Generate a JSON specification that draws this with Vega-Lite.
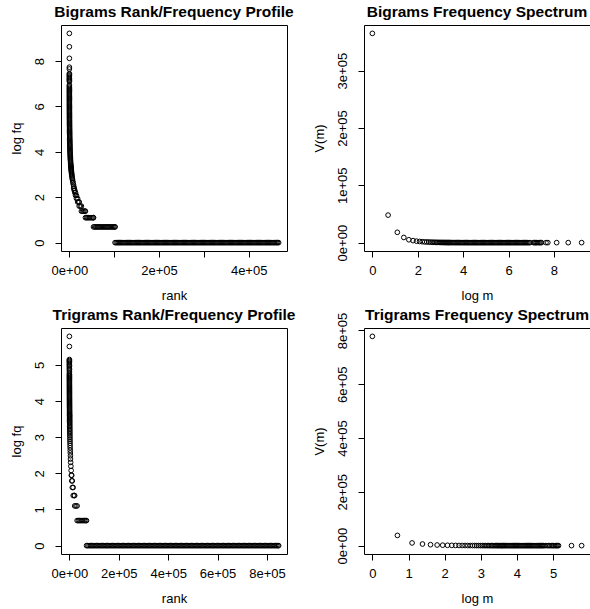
{
"$schema":"https://vega.github.io/schema/vega-lite/v6.json",
"background":"white",
"padding":{"left":9,"top":4,"right":0,"bottom":0},
"config":{
"font":"Liberation Sans",
"view":{"stroke":"black","strokeWidth":1},
"axis":{"grid":false,"domain":false,"ticks":true,"tickColor":"black","tickSize":6,"tickWidth":1,"labelColor":"black","labelFont":"Liberation Sans","labelFontSize":13,"titleFont":"Liberation Sans","titleFontSize":13,"titleFontWeight":"normal","titleColor":"black","labelFlush":false,"labelOverlap":false},
"axisX":{"labelPadding":13.5,"labelBaseline":"middle","titleY":44,"titleBaseline":"middle"},
"axisY":{"labelAngle":-90,"labelAlign":"center","labelBaseline":"middle","labelPadding":16,"titleX":-45,"titleAngle":-90,"titleBaseline":"middle","titleAlign":"center"},
"title":{"font":"Liberation Sans","fontSize":15.5,"fontWeight":"bold","color":"black","frame":"group","anchor":"middle","baseline":"alphabetic","offset":5}
},
"datasets":{
"bigram_rank":[
{"rank":1,"logfq":9.22},{"rank":2,"logfq":8.63},{"rank":3,"logfq":8.12},{"rank":4,"logfq":7.73},{"rank":5,"logfq":7.65},{"rank":6,"logfq":7.45},{"rank":8,"logfq":7.4},{"rank":10,"logfq":7.35},{"rank":12,"logfq":7.3},{"rank":14,"logfq":7.24},{"rank":16,"logfq":7.2},{"rank":18,"logfq":7.15},{"rank":20,"logfq":7.1},{"rank":46,"logfq":6.95},{"rank":49,"logfq":6.9},
{"rank":52,"logfq":6.85},{"rank":55,"logfq":6.8},{"rank":58,"logfq":6.75},{"rank":62,"logfq":6.7},{"rank":66,"logfq":6.65},{"rank":70,"logfq":6.6},{"rank":74,"logfq":6.55},{"rank":79,"logfq":6.5},{"rank":84,"logfq":6.45},{"rank":89,"logfq":6.4},{"rank":94,"logfq":6.35},{"rank":100,"logfq":6.3},{"rank":107,"logfq":6.25},{"rank":113,"logfq":6.2},{"rank":120,"logfq":6.15},{"rank":128,"logfq":6.1},{"rank":135,"logfq":6.05},{"rank":144,"logfq":6.0},{"rank":153,"logfq":5.95},{"rank":162,"logfq":5.9},{"rank":172,"logfq":5.85},{"rank":183,"logfq":5.8},{"rank":194,"logfq":5.75},{"rank":206,"logfq":5.7},{"rank":219,"logfq":5.65},{"rank":233,"logfq":5.6},{"rank":247,"logfq":5.55},{"rank":262,"logfq":5.5},{"rank":279,"logfq":5.45},{"rank":296,"logfq":5.4},{"rank":314,"logfq":5.35},{"rank":334,"logfq":5.3},{"rank":354,"logfq":5.25},{"rank":376,"logfq":5.2},{"rank":400,"logfq":5.15},{"rank":424,"logfq":5.1},{"rank":450,"logfq":5.05},{"rank":478,"logfq":5.0},{"rank":508,"logfq":4.95},{"rank":539,"logfq":4.9},{"rank":573,"logfq":4.85},{"rank":608,"logfq":4.8},{"rank":646,"logfq":4.75},{"rank":686,"logfq":4.7},{"rank":728,"logfq":4.65},{"rank":773,"logfq":4.6},{"rank":821,"logfq":4.55},{"rank":872,"logfq":4.5},{"rank":925,"logfq":4.45},{"rank":983,"logfq":4.4},{"rank":1043,"logfq":4.35},{"rank":1108,"logfq":4.3},{"rank":1176,"logfq":4.25},{"rank":1249,"logfq":4.2},{"rank":1326,"logfq":4.15},{"rank":1408,"logfq":4.1},{"rank":1495,"logfq":4.05},{"rank":1588,"logfq":4.0},{"rank":1686,"logfq":3.95},{"rank":1790,"logfq":3.9},{"rank":1901,"logfq":3.85},{"rank":2018,"logfq":3.8},{"rank":2143,"logfq":3.75},{"rank":2275,"logfq":3.7},{"rank":2416,"logfq":3.65},{"rank":2565,"logfq":3.6},{"rank":2724,"logfq":3.55},{"rank":2892,"logfq":3.5},{"rank":3071,"logfq":3.45},
{"rank":3255,"logfq":3.401},{"rank":3390,"logfq":3.367},{"rank":3536,"logfq":3.332},{"rank":3693,"logfq":3.296},{"rank":3865,"logfq":3.258},{"rank":4051,"logfq":3.219},{"rank":4254,"logfq":3.178},{"rank":4478,"logfq":3.135},{"rank":4723,"logfq":3.091},{"rank":4995,"logfq":3.045},{"rank":5295,"logfq":2.996},{"rank":5631,"logfq":2.944},{"rank":6009,"logfq":2.89},{"rank":6435,"logfq":2.833},{"rank":6921,"logfq":2.773},{"rank":7478,"logfq":2.708},{"rank":8124,"logfq":2.639},{"rank":8879,"logfq":2.565},{"rank":9775,"logfq":2.485},{"rank":9700,"logfq":2.398},{"rank":10800,"logfq":2.398},
{"rank":10900,"logfq":2.303},{"rank":12100,"logfq":2.303},{"rank":12200,"logfq":2.197},{"rank":13700,"logfq":2.197},{"rank":13800,"logfq":2.079},{"rank":15700,"logfq":2.079},{"rank":15800,"logfq":1.946},{"rank":18300,"logfq":1.946},{"rank":18400,"logfq":1.792},{"rank":20900,"logfq":1.792},{"rank":21800,"logfq":1.792},
{"rank":21900,"logfq":1.609},{"rank":24400,"logfq":1.609},{"rank":26800,"logfq":1.609},
{"rank":26900,"logfq":1.386},{"rank":29400,"logfq":1.386},{"rank":31900,"logfq":1.386},{"rank":34400,"logfq":1.386},{"rank":35800,"logfq":1.386},
{"rank":35900,"logfq":1.099},{"rank":38400,"logfq":1.099},{"rank":40900,"logfq":1.099},{"rank":43400,"logfq":1.099},{"rank":45900,"logfq":1.099},{"rank":48400,"logfq":1.099},{"rank":50900,"logfq":1.099},{"rank":53400,"logfq":1.099},{"rank":53800,"logfq":1.099},
{"rank":53900,"logfq":0.693},{"rank":56400,"logfq":0.693},{"rank":58900,"logfq":0.693},{"rank":61400,"logfq":0.693},{"rank":63900,"logfq":0.693},{"rank":66400,"logfq":0.693},{"rank":68900,"logfq":0.693},{"rank":71400,"logfq":0.693},{"rank":73900,"logfq":0.693},{"rank":76400,"logfq":0.693},{"rank":78900,"logfq":0.693},{"rank":81400,"logfq":0.693},{"rank":83900,"logfq":0.693},{"rank":86400,"logfq":0.693},{"rank":88900,"logfq":0.693},{"rank":91400,"logfq":0.693},{"rank":93900,"logfq":0.693},{"rank":96400,"logfq":0.693},{"rank":98900,"logfq":0.693},{"rank":101400,"logfq":0.693},{"rank":101800,"logfq":0.693},
{"rank":101900,"logfq":0},{"rank":104400,"logfq":0},{"rank":106900,"logfq":0},{"rank":109400,"logfq":0},
{"rank":111900,"logfq":0},{"rank":114400,"logfq":0},{"rank":116900,"logfq":0},{"rank":119400,"logfq":0},
{"rank":121900,"logfq":0},{"rank":124400,"logfq":0},{"rank":126900,"logfq":0},{"rank":129400,"logfq":0},
{"rank":131900,"logfq":0},{"rank":134400,"logfq":0},{"rank":136900,"logfq":0},{"rank":139400,"logfq":0},
{"rank":141900,"logfq":0},{"rank":144400,"logfq":0},{"rank":146900,"logfq":0},{"rank":149400,"logfq":0},
{"rank":151900,"logfq":0},{"rank":154400,"logfq":0},{"rank":156900,"logfq":0},{"rank":159400,"logfq":0},
{"rank":161900,"logfq":0},{"rank":164400,"logfq":0},{"rank":166900,"logfq":0},{"rank":169400,"logfq":0},
{"rank":171900,"logfq":0},{"rank":174400,"logfq":0},{"rank":176900,"logfq":0},{"rank":179400,"logfq":0},
{"rank":181900,"logfq":0},{"rank":184400,"logfq":0},{"rank":186900,"logfq":0},{"rank":189400,"logfq":0},
{"rank":191900,"logfq":0},{"rank":194400,"logfq":0},{"rank":196900,"logfq":0},{"rank":199400,"logfq":0},
{"rank":201900,"logfq":0},{"rank":204400,"logfq":0},{"rank":206900,"logfq":0},{"rank":209400,"logfq":0},
{"rank":211900,"logfq":0},{"rank":214400,"logfq":0},{"rank":216900,"logfq":0},{"rank":219400,"logfq":0},
{"rank":221900,"logfq":0},{"rank":224400,"logfq":0},{"rank":226900,"logfq":0},{"rank":229400,"logfq":0},
{"rank":231900,"logfq":0},{"rank":234400,"logfq":0},{"rank":236900,"logfq":0},{"rank":239400,"logfq":0},
{"rank":241900,"logfq":0},{"rank":244400,"logfq":0},{"rank":246900,"logfq":0},{"rank":249400,"logfq":0},
{"rank":251900,"logfq":0},{"rank":254400,"logfq":0},{"rank":256900,"logfq":0},{"rank":259400,"logfq":0},
{"rank":261900,"logfq":0},{"rank":264400,"logfq":0},{"rank":266900,"logfq":0},{"rank":269400,"logfq":0},
{"rank":271900,"logfq":0},{"rank":274400,"logfq":0},{"rank":276900,"logfq":0},{"rank":279400,"logfq":0},
{"rank":281900,"logfq":0},{"rank":284400,"logfq":0},{"rank":286900,"logfq":0},{"rank":289400,"logfq":0},
{"rank":291900,"logfq":0},{"rank":294400,"logfq":0},{"rank":296900,"logfq":0},{"rank":299400,"logfq":0},
{"rank":301900,"logfq":0},{"rank":304400,"logfq":0},{"rank":306900,"logfq":0},{"rank":309400,"logfq":0},
{"rank":311900,"logfq":0},{"rank":314400,"logfq":0},{"rank":316900,"logfq":0},{"rank":319400,"logfq":0},
{"rank":321900,"logfq":0},{"rank":324400,"logfq":0},{"rank":326900,"logfq":0},{"rank":329400,"logfq":0},
{"rank":331900,"logfq":0},{"rank":334400,"logfq":0},{"rank":336900,"logfq":0},{"rank":339400,"logfq":0},
{"rank":341900,"logfq":0},{"rank":344400,"logfq":0},{"rank":346900,"logfq":0},{"rank":349400,"logfq":0},
{"rank":351900,"logfq":0},{"rank":354400,"logfq":0},{"rank":356900,"logfq":0},{"rank":359400,"logfq":0},
{"rank":361900,"logfq":0},{"rank":364400,"logfq":0},{"rank":366900,"logfq":0},{"rank":369400,"logfq":0},
{"rank":371900,"logfq":0},{"rank":374400,"logfq":0},{"rank":376900,"logfq":0},{"rank":379400,"logfq":0},
{"rank":381900,"logfq":0},{"rank":384400,"logfq":0},{"rank":386900,"logfq":0},{"rank":389400,"logfq":0},
{"rank":391900,"logfq":0},{"rank":394400,"logfq":0},{"rank":396900,"logfq":0},{"rank":399400,"logfq":0},
{"rank":401900,"logfq":0},{"rank":404400,"logfq":0},{"rank":406900,"logfq":0},{"rank":409400,"logfq":0},
{"rank":411900,"logfq":0},{"rank":414400,"logfq":0},{"rank":416900,"logfq":0},{"rank":419400,"logfq":0},
{"rank":421900,"logfq":0},{"rank":424400,"logfq":0},{"rank":426900,"logfq":0},{"rank":429400,"logfq":0},
{"rank":431900,"logfq":0},{"rank":434400,"logfq":0},{"rank":436900,"logfq":0},{"rank":439400,"logfq":0},
{"rank":441900,"logfq":0},{"rank":444400,"logfq":0},{"rank":446900,"logfq":0},{"rank":449400,"logfq":0},
{"rank":451900,"logfq":0},{"rank":454400,"logfq":0},{"rank":456900,"logfq":0},{"rank":459400,"logfq":0},
{"rank":461900,"logfq":0},{"rank":464400,"logfq":0},{"rank":466850,"logfq":0}
],
"bigram_spectrum":[
{"logm":0,"Vm":365000},{"logm":0.693,"Vm":48000},{"logm":1.099,"Vm":18000},{"logm":1.386,"Vm":9000},{"logm":1.609,"Vm":5000},{"logm":1.792,"Vm":3500},{"logm":1.946,"Vm":2600},{"logm":2.079,"Vm":2000},{"logm":2.197,"Vm":1600},{"logm":2.303,"Vm":1300},
{"logm":2.398,"Vm":1184},{"logm":2.485,"Vm":978},{"logm":2.565,"Vm":820},{"logm":2.639,"Vm":696},{"logm":2.708,"Vm":598},{"logm":2.773,"Vm":519},{"logm":2.833,"Vm":454},{"logm":2.89,"Vm":401},{"logm":2.944,"Vm":356},{"logm":2.996,"Vm":318},{"logm":3.045,"Vm":285},{"logm":3.091,"Vm":258},{"logm":3.135,"Vm":234},{"logm":3.178,"Vm":213},{"logm":3.219,"Vm":194},{"logm":3.258,"Vm":178},{"logm":3.296,"Vm":164},{"logm":3.332,"Vm":152},{"logm":3.367,"Vm":140},{"logm":3.401,"Vm":130},
{"logm":3.45,"Vm":117},{"logm":3.5,"Vm":105},{"logm":3.55,"Vm":94},{"logm":3.6,"Vm":84},{"logm":3.65,"Vm":75},{"logm":3.7,"Vm":68},{"logm":3.75,"Vm":60},{"logm":3.8,"Vm":54},{"logm":3.85,"Vm":49},{"logm":3.9,"Vm":43},{"logm":3.95,"Vm":39},{"logm":4.0,"Vm":35},{"logm":4.05,"Vm":31},{"logm":4.1,"Vm":28},{"logm":4.15,"Vm":25},{"logm":4.2,"Vm":22},{"logm":4.25,"Vm":20},{"logm":4.3,"Vm":18},{"logm":4.35,"Vm":16},{"logm":4.4,"Vm":14},{"logm":4.45,"Vm":13},{"logm":4.5,"Vm":11},{"logm":4.55,"Vm":10},{"logm":4.6,"Vm":9},{"logm":4.65,"Vm":8},{"logm":4.7,"Vm":7},{"logm":4.75,"Vm":6},{"logm":4.8,"Vm":6},{"logm":4.85,"Vm":5},{"logm":4.9,"Vm":5},{"logm":4.95,"Vm":4},{"logm":5.0,"Vm":4},{"logm":5.05,"Vm":3},{"logm":5.1,"Vm":3},{"logm":5.15,"Vm":3},{"logm":5.2,"Vm":2},{"logm":5.25,"Vm":2},{"logm":5.3,"Vm":2},{"logm":5.35,"Vm":2},
{"logm":5.4,"Vm":1},{"logm":5.45,"Vm":1},{"logm":5.5,"Vm":1},{"logm":5.55,"Vm":1},{"logm":5.6,"Vm":1},{"logm":5.65,"Vm":1},{"logm":5.7,"Vm":1},{"logm":5.75,"Vm":1},{"logm":5.8,"Vm":1},{"logm":5.85,"Vm":1},{"logm":5.9,"Vm":1},{"logm":5.95,"Vm":1},{"logm":6.0,"Vm":1},{"logm":6.05,"Vm":1},{"logm":6.1,"Vm":1},{"logm":6.15,"Vm":1},{"logm":6.2,"Vm":1},{"logm":6.25,"Vm":1},{"logm":6.3,"Vm":1},{"logm":6.35,"Vm":1},{"logm":6.4,"Vm":1},{"logm":6.45,"Vm":1},{"logm":6.5,"Vm":1},{"logm":6.55,"Vm":1},{"logm":6.6,"Vm":1},{"logm":6.65,"Vm":1},{"logm":6.7,"Vm":1},{"logm":6.75,"Vm":1},{"logm":6.8,"Vm":1},{"logm":6.85,"Vm":1},{"logm":6.9,"Vm":1},{"logm":6.95,"Vm":1},
{"logm":7.1,"Vm":1},{"logm":7.15,"Vm":1},{"logm":7.2,"Vm":1},{"logm":7.24,"Vm":1},{"logm":7.3,"Vm":1},{"logm":7.35,"Vm":1},{"logm":7.4,"Vm":1},{"logm":7.45,"Vm":1},{"logm":7.65,"Vm":1},{"logm":7.73,"Vm":1},{"logm":8.12,"Vm":1},{"logm":8.63,"Vm":1},{"logm":9.22,"Vm":1}
],
"trigram_rank":[
{"rank":1,"logfq":5.79},{"rank":2,"logfq":5.51},{"rank":5,"logfq":5.15},{"rank":9,"logfq":5.12},{"rank":15,"logfq":5.09},{"rank":25,"logfq":5.06},{"rank":40,"logfq":5.02},{"rank":60,"logfq":4.99},{"rank":85,"logfq":4.95},{"rank":110,"logfq":4.91},{"rank":140,"logfq":4.87},{"rank":170,"logfq":4.83},{"rank":200,"logfq":4.78},
{"rank":228,"logfq":4.74},{"rank":238,"logfq":4.71},{"rank":248,"logfq":4.68},{"rank":258,"logfq":4.65},{"rank":268,"logfq":4.62},{"rank":278,"logfq":4.59},{"rank":290,"logfq":4.56},{"rank":300,"logfq":4.53},{"rank":312,"logfq":4.5},{"rank":326,"logfq":4.47},{"rank":338,"logfq":4.44},{"rank":352,"logfq":4.41},{"rank":366,"logfq":4.38},{"rank":380,"logfq":4.35},{"rank":394,"logfq":4.32},{"rank":410,"logfq":4.29},{"rank":428,"logfq":4.26},{"rank":444,"logfq":4.23},{"rank":462,"logfq":4.2},{"rank":480,"logfq":4.17},{"rank":500,"logfq":4.14},{"rank":520,"logfq":4.11},{"rank":540,"logfq":4.08},{"rank":562,"logfq":4.05},{"rank":584,"logfq":4.02},{"rank":606,"logfq":3.99},{"rank":630,"logfq":3.96},{"rank":656,"logfq":3.93},{"rank":682,"logfq":3.9},{"rank":708,"logfq":3.87},{"rank":736,"logfq":3.84},{"rank":766,"logfq":3.81},{"rank":796,"logfq":3.78},{"rank":828,"logfq":3.75},{"rank":862,"logfq":3.72},{"rank":896,"logfq":3.69},{"rank":930,"logfq":3.66},{"rank":968,"logfq":3.63},{"rank":1006,"logfq":3.6},
{"rank":1028,"logfq":3.584},{"rank":1066,"logfq":3.555},{"rank":1107,"logfq":3.526},{"rank":1151,"logfq":3.497},{"rank":1198,"logfq":3.466},{"rank":1249,"logfq":3.434},{"rank":1303,"logfq":3.401},{"rank":1361,"logfq":3.367},{"rank":1425,"logfq":3.332},{"rank":1494,"logfq":3.296},{"rank":1569,"logfq":3.258},{"rank":1651,"logfq":3.219},{"rank":1740,"logfq":3.178},{"rank":1840,"logfq":3.135},{"rank":1950,"logfq":3.091},{"rank":2071,"logfq":3.045},{"rank":2207,"logfq":2.996},{"rank":2359,"logfq":2.944},{"rank":2531,"logfq":2.89},{"rank":2725,"logfq":2.833},{"rank":2949,"logfq":2.773},{"rank":3207,"logfq":2.708},{"rank":3508,"logfq":2.639},{"rank":3864,"logfq":2.565},{"rank":4286,"logfq":2.485},{"rank":4520,"logfq":2.398},
{"rank":5200,"logfq":2.303},{"rank":6100,"logfq":2.197},{"rank":7200,"logfq":2.079},{"rank":8000,"logfq":1.946},{"rank":9500,"logfq":1.946},{"rank":9700,"logfq":1.792},{"rank":11800,"logfq":1.792},{"rank":12000,"logfq":1.609},{"rank":15300,"logfq":1.609},
{"rank":15500,"logfq":1.386},{"rank":19500,"logfq":1.386},{"rank":21300,"logfq":1.386},
{"rank":21500,"logfq":1.099},{"rank":26500,"logfq":1.099},{"rank":31300,"logfq":1.099},
{"rank":31500,"logfq":0.693},{"rank":36500,"logfq":0.693},{"rank":41500,"logfq":0.693},{"rank":46500,"logfq":0.693},{"rank":51500,"logfq":0.693},{"rank":56500,"logfq":0.693},{"rank":61500,"logfq":0.693},{"rank":66500,"logfq":0.693},{"rank":69300,"logfq":0.693},
{"rank":69500,"logfq":0},{"rank":74500,"logfq":0},{"rank":79500,"logfq":0},{"rank":84500,"logfq":0},{"rank":89500,"logfq":0},{"rank":94500,"logfq":0},{"rank":99500,"logfq":0},
{"rank":104500,"logfq":0},{"rank":109500,"logfq":0},{"rank":114500,"logfq":0},{"rank":119500,"logfq":0},{"rank":124500,"logfq":0},{"rank":129500,"logfq":0},{"rank":134500,"logfq":0},{"rank":139500,"logfq":0},{"rank":144500,"logfq":0},{"rank":149500,"logfq":0},
{"rank":154500,"logfq":0},{"rank":159500,"logfq":0},{"rank":164500,"logfq":0},{"rank":169500,"logfq":0},{"rank":174500,"logfq":0},{"rank":179500,"logfq":0},{"rank":184500,"logfq":0},{"rank":189500,"logfq":0},{"rank":194500,"logfq":0},{"rank":199500,"logfq":0},
{"rank":204500,"logfq":0},{"rank":209500,"logfq":0},{"rank":214500,"logfq":0},{"rank":219500,"logfq":0},{"rank":224500,"logfq":0},{"rank":229500,"logfq":0},{"rank":234500,"logfq":0},{"rank":239500,"logfq":0},{"rank":244500,"logfq":0},{"rank":249500,"logfq":0},
{"rank":254500,"logfq":0},{"rank":259500,"logfq":0},{"rank":264500,"logfq":0},{"rank":269500,"logfq":0},{"rank":274500,"logfq":0},{"rank":279500,"logfq":0},{"rank":284500,"logfq":0},{"rank":289500,"logfq":0},{"rank":294500,"logfq":0},{"rank":299500,"logfq":0},
{"rank":304500,"logfq":0},{"rank":309500,"logfq":0},{"rank":314500,"logfq":0},{"rank":319500,"logfq":0},{"rank":324500,"logfq":0},{"rank":329500,"logfq":0},{"rank":334500,"logfq":0},{"rank":339500,"logfq":0},{"rank":344500,"logfq":0},{"rank":349500,"logfq":0},
{"rank":354500,"logfq":0},{"rank":359500,"logfq":0},{"rank":364500,"logfq":0},{"rank":369500,"logfq":0},{"rank":374500,"logfq":0},{"rank":379500,"logfq":0},{"rank":384500,"logfq":0},{"rank":389500,"logfq":0},{"rank":394500,"logfq":0},{"rank":399500,"logfq":0},
{"rank":404500,"logfq":0},{"rank":409500,"logfq":0},{"rank":414500,"logfq":0},{"rank":419500,"logfq":0},{"rank":424500,"logfq":0},{"rank":429500,"logfq":0},{"rank":434500,"logfq":0},{"rank":439500,"logfq":0},{"rank":444500,"logfq":0},{"rank":449500,"logfq":0},
{"rank":454500,"logfq":0},{"rank":459500,"logfq":0},{"rank":464500,"logfq":0},{"rank":469500,"logfq":0},{"rank":474500,"logfq":0},{"rank":479500,"logfq":0},{"rank":484500,"logfq":0},{"rank":489500,"logfq":0},{"rank":494500,"logfq":0},{"rank":499500,"logfq":0},
{"rank":504500,"logfq":0},{"rank":509500,"logfq":0},{"rank":514500,"logfq":0},{"rank":519500,"logfq":0},{"rank":524500,"logfq":0},{"rank":529500,"logfq":0},{"rank":534500,"logfq":0},{"rank":539500,"logfq":0},{"rank":544500,"logfq":0},{"rank":549500,"logfq":0},
{"rank":554500,"logfq":0},{"rank":559500,"logfq":0},{"rank":564500,"logfq":0},{"rank":569500,"logfq":0},{"rank":574500,"logfq":0},{"rank":579500,"logfq":0},{"rank":584500,"logfq":0},{"rank":589500,"logfq":0},{"rank":594500,"logfq":0},{"rank":599500,"logfq":0},
{"rank":604500,"logfq":0},{"rank":609500,"logfq":0},{"rank":614500,"logfq":0},{"rank":619500,"logfq":0},{"rank":624500,"logfq":0},{"rank":629500,"logfq":0},{"rank":634500,"logfq":0},{"rank":639500,"logfq":0},{"rank":644500,"logfq":0},{"rank":649500,"logfq":0},
{"rank":654500,"logfq":0},{"rank":659500,"logfq":0},{"rank":664500,"logfq":0},{"rank":669500,"logfq":0},{"rank":674500,"logfq":0},{"rank":679500,"logfq":0},{"rank":684500,"logfq":0},{"rank":689500,"logfq":0},{"rank":694500,"logfq":0},{"rank":699500,"logfq":0},
{"rank":704500,"logfq":0},{"rank":709500,"logfq":0},{"rank":714500,"logfq":0},{"rank":719500,"logfq":0},{"rank":724500,"logfq":0},{"rank":729500,"logfq":0},{"rank":734500,"logfq":0},{"rank":739500,"logfq":0},{"rank":744500,"logfq":0},{"rank":749500,"logfq":0},
{"rank":754500,"logfq":0},{"rank":759500,"logfq":0},{"rank":764500,"logfq":0},{"rank":769500,"logfq":0},{"rank":774500,"logfq":0},{"rank":779500,"logfq":0},{"rank":784500,"logfq":0},{"rank":789500,"logfq":0},{"rank":794500,"logfq":0},{"rank":799500,"logfq":0},
{"rank":804500,"logfq":0},{"rank":809500,"logfq":0},{"rank":814500,"logfq":0},{"rank":819500,"logfq":0},{"rank":824500,"logfq":0},{"rank":829500,"logfq":0},{"rank":834500,"logfq":0},{"rank":839500,"logfq":0},{"rank":844500,"logfq":0},{"rank":847400,"logfq":0}
],
"trigram_spectrum":[
{"logm":0,"Vm":778000},{"logm":0.693,"Vm":38000},{"logm":1.099,"Vm":10000},{"logm":1.386,"Vm":6000},{"logm":1.609,"Vm":3500},{"logm":1.792,"Vm":2300},{"logm":1.946,"Vm":1700},{"logm":2.079,"Vm":1300},{"logm":2.197,"Vm":1000},{"logm":2.303,"Vm":800},
{"logm":2.398,"Vm":567},{"logm":2.485,"Vm":464},{"logm":2.565,"Vm":386},{"logm":2.639,"Vm":326},{"logm":2.708,"Vm":278},{"logm":2.773,"Vm":240},{"logm":2.833,"Vm":208},{"logm":2.89,"Vm":183},{"logm":2.944,"Vm":161},{"logm":2.996,"Vm":143},{"logm":3.045,"Vm":128},{"logm":3.091,"Vm":115},{"logm":3.135,"Vm":104},{"logm":3.178,"Vm":94},{"logm":3.219,"Vm":86},{"logm":3.258,"Vm":78},{"logm":3.296,"Vm":72},{"logm":3.332,"Vm":66},{"logm":3.367,"Vm":61},{"logm":3.401,"Vm":56},{"logm":3.434,"Vm":52},{"logm":3.466,"Vm":49},{"logm":3.497,"Vm":46},{"logm":3.526,"Vm":42},{"logm":3.555,"Vm":40},{"logm":3.584,"Vm":37},
{"logm":3.6,"Vm":36},{"logm":3.63,"Vm":33},{"logm":3.66,"Vm":31},{"logm":3.69,"Vm":29},{"logm":3.72,"Vm":27},{"logm":3.75,"Vm":25},{"logm":3.78,"Vm":24},{"logm":3.81,"Vm":22},{"logm":3.84,"Vm":21},{"logm":3.87,"Vm":19},{"logm":3.9,"Vm":18},{"logm":3.93,"Vm":17},{"logm":3.96,"Vm":16},{"logm":3.99,"Vm":15},{"logm":4.02,"Vm":14},{"logm":4.05,"Vm":13},{"logm":4.08,"Vm":12},{"logm":4.11,"Vm":11},{"logm":4.14,"Vm":10},{"logm":4.17,"Vm":10},{"logm":4.2,"Vm":9},{"logm":4.23,"Vm":8},{"logm":4.26,"Vm":8},{"logm":4.29,"Vm":7},{"logm":4.32,"Vm":7},{"logm":4.35,"Vm":6},{"logm":4.38,"Vm":6},{"logm":4.41,"Vm":5},{"logm":4.44,"Vm":5},{"logm":4.47,"Vm":5},{"logm":4.5,"Vm":4},{"logm":4.53,"Vm":4},{"logm":4.56,"Vm":4},{"logm":4.59,"Vm":3},{"logm":4.62,"Vm":3},{"logm":4.65,"Vm":3},{"logm":4.68,"Vm":3},{"logm":4.71,"Vm":2},{"logm":4.74,"Vm":2},
{"logm":4.78,"Vm":1},{"logm":4.83,"Vm":1},{"logm":4.87,"Vm":1},{"logm":4.91,"Vm":1},{"logm":4.95,"Vm":1},{"logm":4.99,"Vm":1},{"logm":5.02,"Vm":1},{"logm":5.06,"Vm":1},{"logm":5.09,"Vm":1},{"logm":5.12,"Vm":1},{"logm":5.15,"Vm":1},{"logm":5.51,"Vm":1},{"logm":5.79,"Vm":1}
]
},
"columns":2,
"spacing":{"row":77,"column":77},
"bounds":"flush",
"concat":[
{"width":226,"height":226,"title":{"text":"Bigrams Rank/Frequency Profile"},"data":{"name":"bigram_rank"},
"mark":{"type":"point","filled":false,"color":"black","opacity":1,"size":22,"strokeWidth":1},
"encoding":{
"x":{"field":"rank","type":"quantitative","scale":{"domain":[-18673,485524],"nice":false,"zero":false},"axis":{"title":"rank","values":[0,100000,200000,300000,400000],"labelExpr":"datum.value % 200000 == 0 ? (datum.value == 0 ? '0e+00' : (datum.value / 100000) + 'e+05') : ''"}},
"y":{"field":"logfq","type":"quantitative","scale":{"domain":[-0.3688,9.5888],"nice":false,"zero":false},"axis":{"title":"log fq","values":[0,2,4,6,8],"format":"d"}}}},
{"width":226,"height":226,"title":{"text":"Bigrams Frequency Spectrum"},"data":{"name":"bigram_spectrum"},
"mark":{"type":"point","filled":false,"color":"black","opacity":1,"size":22,"strokeWidth":1},
"encoding":{
"x":{"field":"logm","type":"quantitative","scale":{"domain":[-0.3688,9.5888],"nice":false,"zero":false},"axis":{"title":"log m","values":[0,2,4,6,8],"format":"d"}},
"y":{"field":"Vm","type":"quantitative","scale":{"domain":[-14599,379600],"nice":false,"zero":false},"axis":{"title":"V(m)","values":[0,100000,200000,300000],"labelExpr":"datum.value == 0 ? '0e+00' : (datum.value / 100000) + 'e+05'"}}}},
{"width":226,"height":226,"title":{"text":"Trigrams Rank/Frequency Profile"},"data":{"name":"trigram_rank"},
"mark":{"type":"point","filled":false,"color":"black","opacity":1,"size":22,"strokeWidth":1},
"encoding":{
"x":{"field":"rank","type":"quantitative","scale":{"domain":[-33895,881296],"nice":false,"zero":false},"axis":{"title":"rank","values":[0,200000,400000,600000,800000],"labelExpr":"datum.value == 0 ? '0e+00' : (datum.value / 100000) + 'e+05'"}},
"y":{"field":"logfq","type":"quantitative","scale":{"domain":[-0.2316,6.0216],"nice":false,"zero":false},"axis":{"title":"log fq","values":[0,1,2,3,4,5],"format":"d"}}}},
{"width":226,"height":226,"title":{"text":"Trigrams Frequency Spectrum","offset":-11},"data":{"name":"trigram_spectrum"},
"mark":{"type":"point","filled":false,"color":"black","opacity":1,"size":22,"strokeWidth":1},
"encoding":{
"x":{"field":"logm","type":"quantitative","scale":{"domain":[-0.2316,6.0216],"nice":false,"zero":false},"axis":{"title":"log m","values":[0,1,2,3,4,5],"format":"d"}},
"y":{"field":"Vm","type":"quantitative","scale":{"domain":[-31119,809120],"nice":false,"zero":false},"axis":{"title":"V(m)","values":[0,200000,400000,600000,800000],"labelExpr":"datum.value == 0 ? '0e+00' : (datum.value / 100000) + 'e+05'"}}}}
]
}
